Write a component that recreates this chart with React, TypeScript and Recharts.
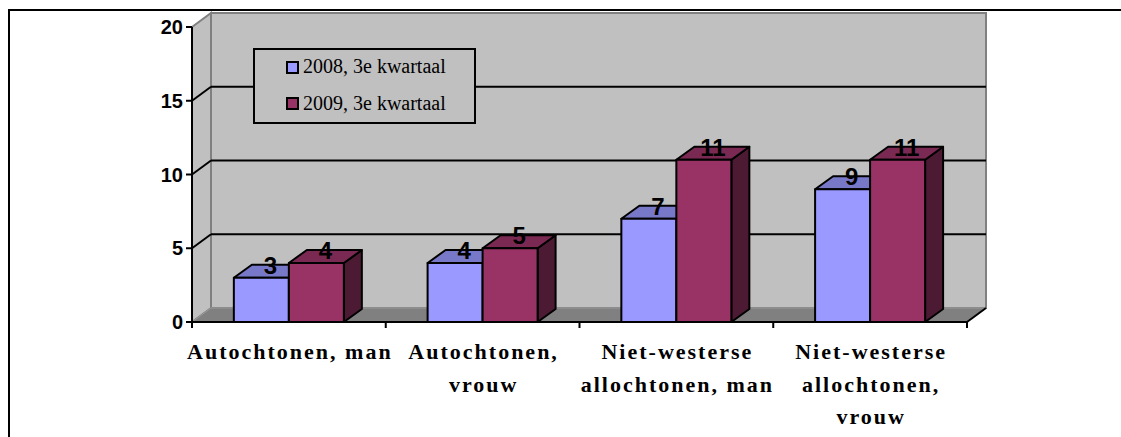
import React from 'react';
import {
  BarChart,
  Bar,
  XAxis,
  YAxis,
  CartesianGrid,
  Legend,
  LabelList
} from 'recharts';

// groepen en waarden (aantallen, 3e kwartaal)
const categories = [
  'Autochtonen, man',
  'Autochtonen, vrouw',
  'Niet-westerse allochtonen, man',
  'Niet-westerse allochtonen, vrouw'
];
const categoryLines = [
  ['Autochtonen, man'],
  ['Autochtonen,', 'vrouw'],
  ['Niet-westerse', 'allochtonen, man'],
  ['Niet-westerse', 'allochtonen,', 'vrouw']
];
const values2008 = [3, 4, 7, 9];
const values2009 = [4, 5, 11, 11];
const yTicks = [0, 5, 10, 15, 20];
const seriesNames = ['2008, 3e kwartaal', '2009, 3e kwartaal'];

const data = categories.map((name, i) => ({
  name,
  q2008: values2008[i],
  q2009: values2009[i]
}));

// 3d-diepte van wanden en staven
const WALL_DX = 19;
const WALL_DY = 14;
const BAR_DX = 18;
const BAR_DY = 13;

const SERIF = 'Liberation Serif, DejaVu Serif, serif';
const SANS = 'Liberation Sans, Arial, sans-serif';

function WallLine(props: any) {
  const { x, y, width, height, y1, index } = props;
  const left = x;
  const right = x + width;
  const top = y;
  const bottom = y + height;
  const isEdge = Math.abs(y1 - top) < 1 || Math.abs(y1 - bottom) < 1;

  return (
    <g>
      {index === 0 && (
        <g>
          <rect
            x={left + WALL_DX}
            y={top - WALL_DY}
            width={width}
            height={height}
            fill="#C0C0C0"
            stroke="#808080"
            strokeWidth={2}
          />
          <polygon
            points={`${left},${top} ${left + WALL_DX},${top - WALL_DY} ${left + WALL_DX},${bottom - WALL_DY} ${left},${bottom}`}
            fill="#C0C0C0"
            stroke="#808080"
            strokeWidth={2}
          />
          <polygon
            points={`${left},${bottom} ${left + WALL_DX},${bottom - WALL_DY} ${right + WALL_DX},${bottom - WALL_DY} ${right},${bottom}`}
            fill="#808080"
            stroke="#9a9a9a"
            strokeWidth={1}
          />
          <line
            x1={right}
            y1={bottom}
            x2={right + WALL_DX}
            y2={bottom - WALL_DY}
            stroke="#000"
            strokeWidth={2}
          />
        </g>
      )}
      {!isEdge && (
        <g stroke="#000" strokeWidth={2}>
          <line x1={left} y1={y1} x2={left + WALL_DX} y2={y1 - WALL_DY} />
          <line x1={left + WALL_DX} y1={y1 - WALL_DY} x2={right + WALL_DX} y2={y1 - WALL_DY} />
        </g>
      )}
    </g>
  );
}

function Bar3D(props: any) {
  const { x, y, width, height, front, top, side } = props;
  if (!height || height <= 0) return null;
  return (
    <g stroke="#000" strokeWidth={2} strokeLinejoin="round">
      <polygon
        points={`${x + width},${y} ${x + width + BAR_DX},${y - BAR_DY} ${x + width + BAR_DX},${y + height - BAR_DY} ${x + width},${y + height}`}
        fill={side}
      />
      <polygon
        points={`${x},${y} ${x + BAR_DX},${y - BAR_DY} ${x + width + BAR_DX},${y - BAR_DY} ${x + width},${y}`}
        fill={top}
      />
      <rect x={x} y={y} width={width} height={height} fill={front} />
    </g>
  );
}

function ValueLabel(props: any) {
  const { x, y, width, value } = props;
  return (
    <text
      x={Number(x) + Number(width) / 2 + BAR_DX / 2}
      y={Number(y) - 4}
      textAnchor="middle"
      style={{ fontFamily: SANS, fontWeight: 'bold', fontSize: 24 }}
      fill="#000"
    >
      {value}
    </text>
  );
}

function CategoryTick(props: any) {
  const { x, y, payload, index } = props;
  const half = payload && payload.offset ? payload.offset : 96.875;
  const lines = categoryLines[index] || [String(payload.value)];
  const last = index === categories.length - 1;
  return (
    <g>
      <line x1={x - half} y1={y} x2={x - half} y2={y + 6} stroke="#000" strokeWidth={2} />
      {last && <line x1={x + half} y1={y} x2={x + half} y2={y + 6} stroke="#000" strokeWidth={2} />}
      <text
        x={x + 1}
        y={y}
        textAnchor="middle"
        style={{ fontFamily: SERIF, fontWeight: 'bold', fontSize: 22, letterSpacing: 2 }}
        fill="#000"
      >
        {lines.map((line, i) => (
          <tspan key={i} x={x + 1} y={y + 37 + i * 32.5}>
            {line}
          </tspan>
        ))}
      </text>
    </g>
  );
}

function LegendBox(props: any) {
  const { payload } = props;
  const items = payload && payload.length ? payload : [];
  return (
    <div
      style={{
        position: 'relative',
        width: 223,
        height: 76,
        boxSizing: 'border-box',
        border: '2px solid #000',
        background: '#C0C0C0'
      }}
    >
      {items.map((entry: any, i: number) => (
        <React.Fragment key={i}>
          <div
            style={{
              position: 'absolute',
              left: 31,
              top: 11 + i * 36,
              width: 13,
              height: 13,
              boxSizing: 'border-box',
              border: '2px solid #000',
              background: entry.color
            }}
          />
          <span
            style={{
              position: 'absolute',
              left: 48,
              top: 6 + i * 37,
              fontFamily: SERIF,
              fontSize: 20,
              lineHeight: '20px',
              color: '#000',
              whiteSpace: 'nowrap'
            }}
          >
            {entry.value}
          </span>
        </React.Fragment>
      ))}
    </div>
  );
}

export default function App() {
  return (
    <div
      style={{
        position: 'absolute',
        left: 0,
        top: 0,
        width: 1121,
        height: 437,
        overflow: 'hidden',
        background: '#fff'
      }}
    >
      <div
        style={{
          position: 'absolute',
          left: 8,
          top: 9,
          width: 1300,
          height: 600,
          border: '2px solid #000'
        }}
      />
      <div style={{ position: 'absolute', left: 0, top: 0 }}>
        <BarChart
          width={1121}
          height={437}
          data={data}
          margin={{ top: 27, right: 154, bottom: 0, left: 132 }}
          barCategoryGap="21.6%"
          barGap={0}
        >
          <CartesianGrid horizontal={WallLine} vertical={false} />
          <XAxis
            dataKey="name"
            height={115}
            interval={0}
            tickSize={0}
            tickMargin={0}
            tickLine={false}
            axisLine={{ stroke: '#000', strokeWidth: 2 }}
            tick={<CategoryTick />}
          />
          <YAxis
            domain={[0, 20]}
            ticks={yTicks}
            interval={0}
            width={60}
            tickSize={6}
            tickMargin={3}
            axisLine={{ stroke: '#000', strokeWidth: 2 }}
            tickLine={{ stroke: '#000', strokeWidth: 2 }}
            tick={{ fill: '#000', fontSize: 20, fontWeight: 'bold', fontFamily: SANS }}
          />
          <Legend
            layout="horizontal"
            verticalAlign="middle"
            align="center"
            content={<LegendBox />}
            wrapperStyle={{ left: 253, top: 48, width: 223, height: 76 }}
          />
          <Bar
            dataKey="q2008"
            name={seriesNames[0]}
            fill="#9999FF"
            isAnimationActive={false}
            shape={(p: any) => <Bar3D {...p} front="#9999FF" top="#7878C8" side="#4D4D80" />}
          >
            <LabelList dataKey="q2008" content={<ValueLabel />} />
          </Bar>
          <Bar
            dataKey="q2009"
            name={seriesNames[1]}
            fill="#993366"
            isAnimationActive={false}
            shape={(p: any) => <Bar3D {...p} front="#993366" top="#7A2952" side="#4D1A33" />}
          >
            <LabelList dataKey="q2009" content={<ValueLabel />} />
          </Bar>
        </BarChart>
      </div>
    </div>
  );
}
